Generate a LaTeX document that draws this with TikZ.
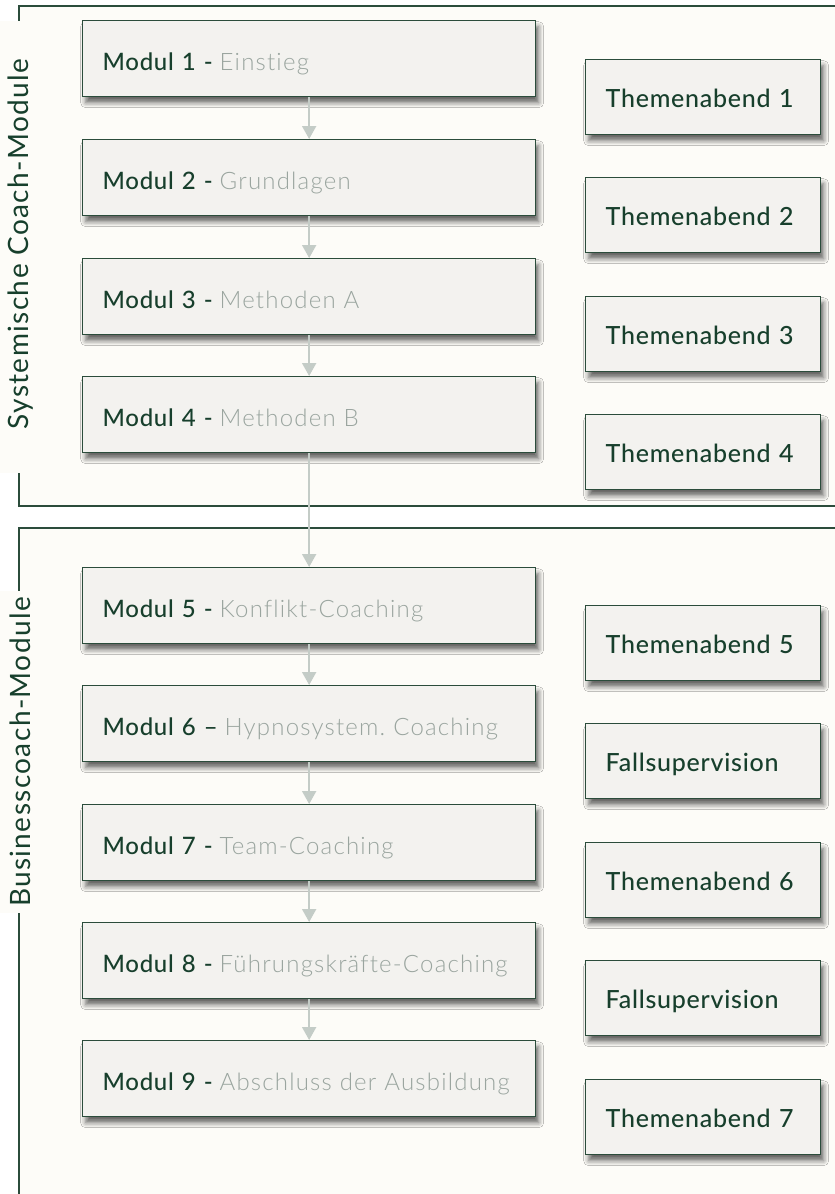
\documentclass[tikz,border=0pt]{standalone}
\usepackage{fontspec}
\setmainfont{Lato}
\newfontfamily\darkfont{Lato Medium}[LetterSpace=3]
\newfontfamily\lightfont{Lato Light}[LetterSpace=5, Ligatures=NoCommon]
\newfontfamily\labelfont{Lato}[LetterSpace=5]
\usetikzlibrary{arrows.meta,shadows.blur}
\definecolor{groupbg}{HTML}{FDFCF8}
\definecolor{boxbg}{HTML}{F3F2EF}
\definecolor{framec}{HTML}{2B4C3B}
\definecolor{darktxt}{HTML}{173F2C}
\definecolor{lighttxt}{HTML}{9AA59F}
\definecolor{arrc}{HTML}{C4CCC7}
\frenchspacing
\tikzset{
  framel/.style={draw=framec, line width=1.2pt},
  basebox/.style={anchor=north west, draw=framec, line width=1.3pt, fill=boxbg,
    blur shadow={shadow xshift=3pt, shadow yshift=-6pt, shadow blur radius=5pt, shadow opacity=60},
    align=left, inner xsep=20pt, inner ysep=0pt, text=darktxt},
  modbox/.style={basebox, text width=413pt, minimum height=76pt, text height=30pt, text depth=6pt,
    font=\darkfont\fontsize{24}{28}\selectfont},
  tabox/.style={basebox, text width=195pt, minimum height=75pt, text height=26pt, text depth=5.6pt,
    font=\darkfont\fontsize{25}{29}\selectfont},
  grouplabel/.style={rotate=90, text=darktxt, font=\labelfont\fontsize{28}{32}\selectfont, inner sep=0pt},
  arr/.style={draw=arrc, line width=2pt, -{Triangle[width=14pt,length=13pt]}},
}
\newcommand{\lt}[1]{{\lightfont\color{lighttxt}#1}}
\begin{document}
\begin{tikzpicture}[x=1pt,y=-1pt]
\useasboundingbox (0,0) rectangle (835,1194);
\fill[white] (0,0) rectangle (835,1194);
\fill[groupbg] (19,6) rectangle (835,506);
\fill[groupbg] (19,528) rectangle (835,1194);
\draw[framel] (836,6) -- (19,6) -- (19,506) -- (836,506);
\draw[framel] (836,528) -- (19,528) -- (19,1195);
\fill[groupbg] (0,21) rectangle (24,473);
\fill[groupbg] (0,591) rectangle (24,913);
\node[grouplabel] (g1) at (20.5,244) {Systemische Coach-Module};
\node[grouplabel] (g2) at (20.5,752) {Businesscoach-Module};
% modules
\node[modbox] (m1) at (82,20)   {Modul 1 -\hspace{-1pt} \lt{Einstieg}};
\node[modbox] (m2) at (82,139)  {Modul 2 -\hspace{-1pt} \lt{Grundlagen}};
\node[modbox] (m3) at (82,258)  {Modul 3 -\hspace{-1pt} \lt{Methoden A}};
\node[modbox] (m4) at (82,376)  {Modul 4 -\hspace{-1pt} \lt{Methoden B}};
\node[modbox] (m5) at (82,567)  {Modul 5 -\hspace{-1pt} \lt{Konflikt-Coaching}};
\node[modbox] (m6) at (82,685)  {Modul 6 –\hspace{-1pt} \lt{Hypnosystem. Coaching}};
\node[modbox] (m7) at (82,804)  {Modul 7 -\hspace{-1pt} \lt{Team-Coaching}};
\node[modbox] (m8) at (82,922)  {Modul 8 -\hspace{-1pt} \lt{Führungskräfte-Coaching}};
\node[modbox] (m9) at (82,1040) {Modul 9 -\hspace{-1pt} \lt{Abschluss der Ausbildung}};
% side boxes
\node[tabox] (t1) at (585,59)   {Themenabend 1};
\node[tabox] (t2) at (585,177)  {Themenabend 2};
\node[tabox] (t3) at (585,296)  {Themenabend 3};
\node[tabox] (t4) at (585,414)  {Themenabend 4};
\node[tabox] (t5) at (585,605)  {Themenabend 5};
\node[tabox] (f1) at (585,723)  {Fallsupervision};
\node[tabox] (t6) at (585,842)  {Themenabend 6};
\node[tabox] (f2) at (585,960)  {Fallsupervision};
\node[tabox] (t7) at (585,1079) {Themenabend 7};
% arrows
\foreach \a/\b in {m1/m2,m2/m3,m3/m4,m4/m5,m5/m6,m6/m7,m7/m8,m8/m9}
  \draw[arr] (\a.south) -- (\b.north);
\end{tikzpicture}
\end{document}
